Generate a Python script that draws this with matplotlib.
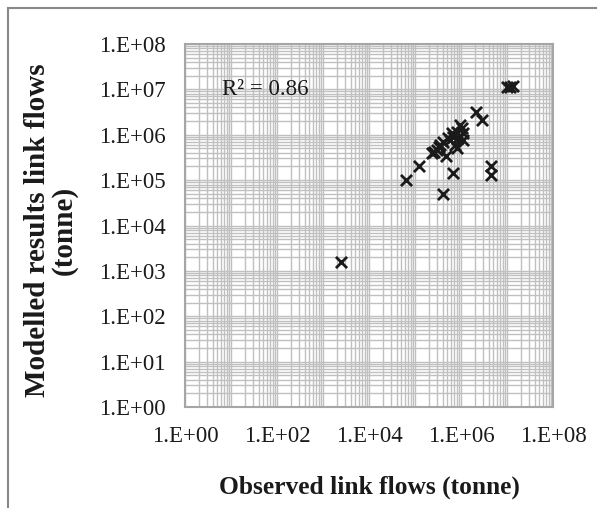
import numpy as np
import matplotlib.pyplot as plt
from matplotlib.patches import Rectangle
from matplotlib.ticker import LogLocator, FixedLocator, NullFormatter

plt.rcParams['font.family'] = ['Liberation Serif', 'DejaVu Serif']

# Observed vs modelled link flows (tonne)
observed = [2.5e3, 6.3e4, 1.2e5, 2.3e5, 4.7e5, 4.0e5, 6.8e5, 4.6e6, 4.6e6,
            2.1e6, 2.8e6, 9.8e6, 1.15e7, 1.35e7,
            3.0e5, 3.4e5, 4.1e5, 3.5e5, 5.2e5, 6.3e5, 8.1e5, 9.5e5, 1.09e6,
            1.12e6, 7.4e5, 8.1e5, 6.8e5, 8.6e5, 1.04e6, 5.8e5, 2.6e5]
modelled = [1.6e3, 1.0e5, 2.0e5, 3.9e5, 3.4e5, 5.0e4, 1.4e5, 2.0e5, 1.3e5,
            3.1e6, 2.1e6, 1.1e7, 1.15e7, 1.2e7,
            4.6e5, 5.3e5, 7.0e5, 5.9e5, 8.5e5, 1.08e6, 1.17e6, 1.64e6, 1.11e6,
            7.7e5, 5.9e5, 5.0e5, 9.1e5, 8.5e5, 1.39e6, 7.7e5, 4.2e5]

xticks = [1e0, 1e2, 1e4, 1e6, 1e8]
xlabels = ['1.E+00', '1.E+02', '1.E+04', '1.E+06', '1.E+08']
yticks = [10.0 ** k for k in range(9)]
ylabels = ['1.E+%02d' % k for k in range(9)]

fig = plt.figure(figsize=(5.97, 5.08), dpi=100)
ax = fig.add_axes([185 / 597, 1 - 407 / 508, 368 / 597, 363 / 508])

ax.scatter(observed, modelled, marker='x', s=64, color='#1a1a1a',
           linewidths=2.0, zorder=3)

ax.set_xscale('log')
ax.set_yscale('log')
ax.set_xlim(1e0, 1e8)
ax.set_ylim(1e0, 1e8)

ax.xaxis.set_major_locator(FixedLocator(xticks))
ax.set_xticklabels(xlabels)
ax.yaxis.set_major_locator(FixedLocator(yticks))
ax.set_yticklabels(ylabels)
ax.xaxis.set_minor_locator(LogLocator(base=10, subs=np.arange(1, 10), numticks=50))
ax.yaxis.set_minor_locator(LogLocator(base=10, subs=np.arange(1, 10), numticks=50))
ax.xaxis.set_minor_formatter(NullFormatter())
ax.yaxis.set_minor_formatter(NullFormatter())

ax.grid(True, which='both', color='#c0c0c0', linewidth=1.0)
ax.set_axisbelow(True)
ax.tick_params(which='both', length=0, labelsize=16.5, colors='#1a1a1a')
ax.tick_params(axis='x', pad=14)
ax.tick_params(axis='y', pad=14)
for s in ax.spines.values():
    s.set_color('#a6a6a6')
    s.set_linewidth(1.5)

ax.text(1e0 * 10 ** (37 / 46), 1e7, 'R² = 0.86', fontsize=16.5,
        va='center', ha='left', color='#1a1a1a')

fig.text(369 / 597, 1 - 487 / 508, 'Observed link flows (tonne)',
         fontsize=18.4, fontweight='bold', ha='center', va='center',
         color='#1a1a1a')
fig.text(51 / 597, 1 - 230 / 508, 'Modelled results link flows\n(tonne)',
         fontsize=21, fontweight='bold', ha='center', va='center',
         rotation=90, multialignment='center', linespacing=1.0,
         color='#1a1a1a')

fig.patches.append(Rectangle((8 / 597, -0.1), 1.2, 1.1 - 8 / 508,
                             transform=fig.transFigure, fill=False,
                             edgecolor='#888888', linewidth=1.5))

fig.savefig('out.png', dpi=100)
